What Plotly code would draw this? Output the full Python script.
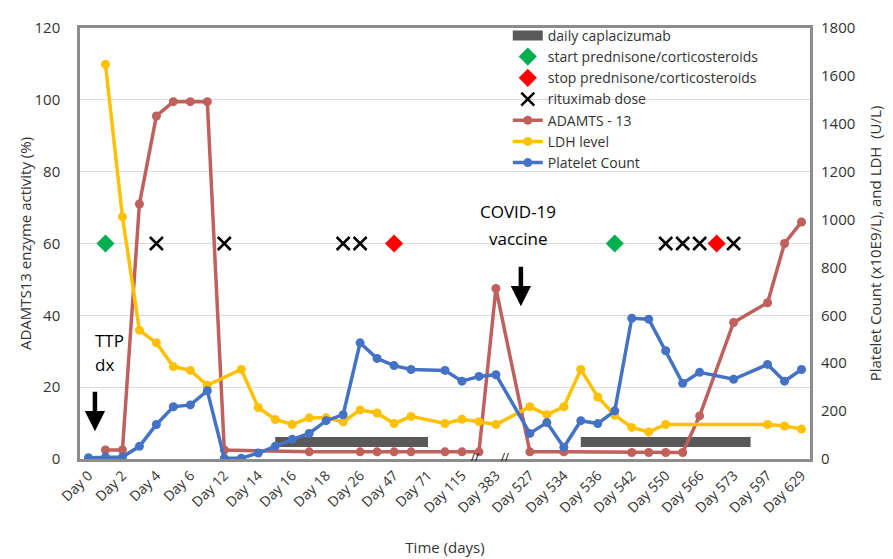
import plotly.graph_objects as go

# ---- data ----
categories = ["Day 0", "Day 1", "Day 2", "Day 3", "Day 4", "Day 5", "Day 6", "Day 7",
              "Day 12", "Day 13", "Day 14", "Day 15", "Day 16", "Day 17", "Day 18", "Day 22",
              "Day 26", "Day 35", "Day 47", "Day 60", "Day 71", "Day 90", "Day 115", "Day 200",
              "Day 383", "Day 450", "Day 527", "Day 530", "Day 534", "Day 535", "Day 536", "Day 539",
              "Day 542", "Day 546", "Day 550", "Day 558", "Day 566", "Day 570", "Day 573", "Day 585",
              "Day 597", "Day 610", "Day 629"]

tick_labels = ["Day 0", "Day 2", "Day 4", "Day 6", "Day 12", "Day 14", "Day 16", "Day 18",
               "Day 26", "Day 47", "Day 71", "Day 115", "Day 383", "Day 527", "Day 534",
               "Day 536", "Day 542", "Day 550", "Day 566", "Day 573", "Day 597", "Day 629"]

N = None
adamts13 = [N, 2.5, 2.5, 71, 95.5, 99.5, 99.5, 99.5,
            2.5, N, N, N, N, 2, N, N,
            2, 2, 2, 2, N, 2, 2, 2,
            47.5, N, 2, N, 2, N, N, N,
            1.8, 1.8, 1.8, 1.8, 12, N, 38, N,
            43.5, 60, 66]

ldh = [N, 1648, 1011, 538, 485, 386, 370, 308,
       N, 374, 215, 165, 144, 172, 172, 155,
       205, 192, 148, 178, N, 148, 166, 156,
       144, N, 218, 185, 218, 374, 259, 183,
       132, 113, 144, N, N, N, N, N,
       144, 138, 125]

platelets = [5, 8, 8, 53, 144, 218, 226, 285,
             3, 3, 25, 53, 82, 107, 160, 185,
             485, 420, 390, 374, N, 370, 325, 345,
             352, N, 107, 152, 49, 160, 148, 201,
             588, 584, 452, 316, 362, N, 333, N,
             395, 325, 374]

caplacizumab_days = ["Day 15", "Day 16", "Day 17", "Day 18", "Day 22", "Day 26", "Day 35", "Day 47", "Day 60", "Day 71",
                     None,
                     "Day 535", "Day 536", "Day 539", "Day 542", "Day 546", "Day 550", "Day 558", "Day 566", "Day 570", "Day 573", "Day 585"]
caplacizumab_level = 4.7

start_pred_days = ["Day 1", "Day 539"]
stop_pred_days = ["Day 47", "Day 570"]
rituximab_days = ["Day 4", "Day 12", "Day 22", "Day 26", "Day 550", "Day 558", "Day 566", "Day 573"]
event_level = 60

FONT = "Open Sans, Noto Sans, sans-serif"
RED = "#C0605C"
GOLD = "#FFC000"
BLUE = "#4472C4"

fig = go.Figure()

fig.add_trace(go.Scatter(
    x=caplacizumab_days,
    y=[caplacizumab_level if d is not None else None for d in caplacizumab_days],
    mode="lines", line=dict(color="#595959", width=10), connectgaps=False,
    name="daily caplacizumab", legendgroup="g1"))

fig.add_trace(go.Scatter(
    x=start_pred_days, y=[event_level] * len(start_pred_days), mode="markers",
    marker=dict(symbol="diamond", size=14, color="#00B050"),
    name="start prednisone/corticosteroids", legendgroup="g2"))

fig.add_trace(go.Scatter(
    x=stop_pred_days, y=[event_level] * len(stop_pred_days), mode="markers",
    marker=dict(symbol="diamond", size=14, color="#FF0000"),
    name="stop prednisone/corticosteroids", legendgroup="g3"))

fig.add_trace(go.Scatter(
    x=rituximab_days, y=[event_level] * len(rituximab_days), mode="markers",
    marker=dict(symbol="x-thin", size=13, color="black", line=dict(width=2.5, color="black")),
    name="rituximab dose", legendgroup="g4"))

fig.add_trace(go.Scatter(
    x=categories, y=adamts13, mode="lines+markers", connectgaps=True,
    line=dict(color=RED, width=3.5), marker=dict(size=9, color=RED),
    name="ADAMTS - 13", legendgroup="g5"))

fig.add_trace(go.Scatter(
    x=categories, y=ldh, mode="lines+markers", connectgaps=True, yaxis="y2",
    line=dict(color=GOLD, width=3.5), marker=dict(size=9, color=GOLD),
    name="LDH level", legendgroup="g6"))

fig.add_trace(go.Scatter(
    x=categories, y=platelets, mode="lines+markers", connectgaps=True, yaxis="y2",
    line=dict(color=BLUE, width=3.5), marker=dict(size=9, color=BLUE),
    name="Platelet Count", legendgroup="g7"))

annotations = [
    dict(x=0.38, y=7.7, xref="x", yref="y", text="", showarrow=True,
         ax=0, ay=-41, arrowhead=2, arrowwidth=4.5, arrowsize=0.9, arrowcolor="black"),
    dict(x=25.47, y=42.5, xref="x", yref="y", text="", showarrow=True,
         ax=0, ay=-41, arrowhead=2, arrowwidth=4.5, arrowsize=0.9, arrowcolor="black"),
    dict(x=0.27, y=32.9, xref="x", yref="y", text="TTP", showarrow=False,
         xanchor="left", font=dict(size=17, color="black", family=FONT)),
    dict(x=0.27, y=26.2, xref="x", yref="y", text="dx", showarrow=False,
         xanchor="left", font=dict(size=17, color="black", family=FONT)),
    dict(x=25.3, y=68.8, xref="x", yref="y", text="COVID-19", showarrow=False,
         font=dict(size=17, color="black", family=FONT)),
    dict(x=25.3, y=61.4, xref="x", yref="y", text="vaccine", showarrow=False,
         font=dict(size=17, color="black", family=FONT)),
    dict(x=22.76, y=0.8, xref="x", yref="y", text="//", showarrow=False,
         font=dict(size=11, color="black", family=FONT)),
    dict(x=24.53, y=0.8, xref="x", yref="y", text="//", showarrow=False,
         font=dict(size=11, color="black", family=FONT)),
]

fig.update_layout(
    width=893, height=559,
    margin=dict(l=72, r=91, t=13, b=108),
    paper_bgcolor="white", plot_bgcolor="white",
    font=dict(family=FONT, size=14, color="#333333"),
    showlegend=True,
    legend=dict(x=0.586, y=1.019, xanchor="left", yanchor="top",
                bgcolor="rgba(0,0,0,0)", font=dict(size=14, color="#333333"),
                traceorder="grouped", tracegroupgap=0),
    xaxis=dict(type="category", categoryorder="array", categoryarray=categories,
               range=[-0.5, 42.5], tickmode="array", tickvals=tick_labels, ticktext=tick_labels,
               tickangle=-45, showgrid=False, showline=True, mirror=True,
               linecolor="#8C8C8C", linewidth=2.5, ticks="", automargin=False,
               title=dict(text="Time (days)", font=dict(size=15), standoff=27),
               tickfont=dict(size=14)),
    yaxis=dict(range=[0, 120], dtick=20, showgrid=True, gridcolor="#D9D9D9", gridwidth=1,
               zeroline=False, showline=True, mirror=True, linecolor="#8C8C8C", linewidth=2.5,
               ticklabelstandoff=14, tickfont=dict(size=15), automargin=False,
               title=dict(text="ADAMTS13 enzyme activity (%)", font=dict(size=15), standoff=0)),
    yaxis2=dict(range=[0, 1800], dtick=200, overlaying="y", side="right", showgrid=False,
                zeroline=False, showline=False, ticklabelstandoff=10, tickfont=dict(size=15),
                automargin=False,
                title=dict(text="Platelet Count (x10E9/L), and LDH  (U/L)", font=dict(size=15), standoff=16)),
    annotations=annotations,
)

fig.write_html("out.html")
